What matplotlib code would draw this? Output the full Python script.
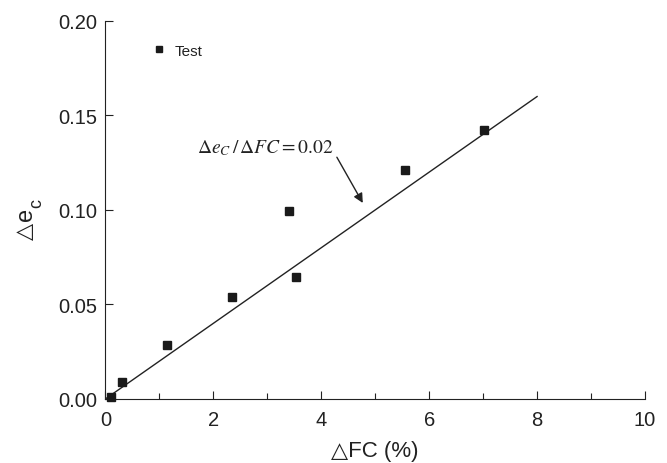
import matplotlib
matplotlib.use("Agg")
import matplotlib.pyplot as plt
import numpy as np

plt.rcParams['font.family'] = ['Liberation Sans', 'DejaVu Sans']
plt.rcParams['mathtext.fontset'] = 'custom'
plt.rcParams['mathtext.rm'] = 'Liberation Sans'
plt.rcParams['mathtext.it'] = 'Liberation Sans'

# Data
dfc = [0.11, 0.30, 1.15, 2.35, 3.41, 3.53, 5.56, 7.02]
dec = [0.001, 0.0088, 0.0286, 0.054, 0.0996, 0.0644, 0.1213, 0.1425]
fit_x = [0, 8]
slope = 0.02
fit_y = [slope * v for v in fit_x]

W, H = 667, 464
fig = plt.figure(figsize=(W / 100, H / 100), dpi=100)
ax = fig.add_axes([0.158, 0.138, 0.809, 0.8147])

ax.plot(fit_x, fit_y, color='#222222', lw=1.0, zorder=2)
ax.plot(dfc, dec, ls='none', marker='s', ms=5.5, color='#1a1a1a', label='Test', zorder=3, clip_on=False)

ax.set_xlim(0, 10)
ax.set_ylim(0, 0.20)
ax.set_xticks([0, 2, 4, 6, 8, 10])
ax.set_xticks([1, 3, 5, 7, 9], minor=True)
ax.set_yticks([0, 0.05, 0.10, 0.15, 0.20])
ax.set_yticklabels(['0.00', '0.05', '0.10', '0.15', '0.20'])
ax.tick_params(which='both', direction='in', labelsize=14.5, width=0.8, colors='#222222')
ax.tick_params(axis='x', which='both', pad=8)
ax.tick_params(axis='y', which='both', pad=6)
ax.tick_params(which='major', length=6)
ax.tick_params(which='minor', length=4)
ax.spines['top'].set_visible(False)
ax.spines['right'].set_visible(False)
for s in ['left', 'bottom']:
    ax.spines[s].set_color('#222222')

ax.set_xlabel('\u25b3FC (%)', fontsize=16, labelpad=8, color='#222222')

# y label composed of pieces: triangle, e, subscript c (rotated)
fig.text(25 / W, 1 - 231 / H, '\u25b3', rotation=90, fontsize=16, ha='center', va='center',
         color='#222222', family=['DejaVu Sans'])
fig.text(26 / W, 1 - 214 / H, 'e', rotation=90, fontsize=17, ha='center', va='center',
         color='#222222')
fig.text(37 / W, 1 - 203 / H, 'c', rotation=90, fontsize=13, ha='center', va='center',
         color='#222222')

ax.text(2.96, 0.133, '$\\Delta e_C\\,/\\,\\Delta FC = 0.02$', fontsize=14,
        math_fontfamily='stix', ha='center', va='center', color='#222222')
ax.annotate('', xy=(4.77, 0.1037), xytext=(4.29, 0.1279),
            arrowprops=dict(arrowstyle='-|>', color='#222222', lw=1.0, mutation_scale=14,
                            shrinkA=0, shrinkB=0))

leg = ax.legend(loc='upper left', bbox_to_anchor=(0.06, 0.976), frameon=False,
                fontsize=11, handletextpad=0.5, handlelength=1.0, markerscale=0.9)
for t in leg.get_texts():
    t.set_color('#222222')

fig.savefig('out.png', dpi=100)
